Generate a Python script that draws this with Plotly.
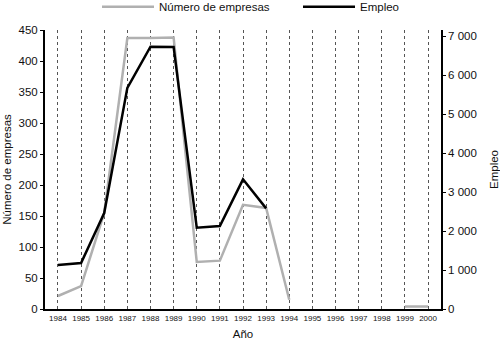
import plotly.graph_objects as go

years = list(range(1984, 2001))
empresas = [21, 37, 155, 437, 437, 438, 76, 78, 168, 163, 15, None, None, None, None, 4, 4]
empleo = [1130, 1180, 2460, 5670, 6725, 6720, 2085, 2128, 3325, 2580, None, None, None, None, None, None, None]
year_labels = [str(y) for y in years]
right_ticks = [0, 1000, 2000, 3000, 4000, 5000, 6000, 7000]
right_text = ["0", "1 000", "2 000", "3 000", "4 000", "5 000", "6 000", "7 000"]

FONT = "Liberation Sans"

fig = go.Figure()
fig.add_trace(go.Scatter(x=years, y=empresas, mode="lines", name="Número de empresas",
                         line=dict(color="#b0b0b0", width=2.5), connectgaps=False, legend="legend"))
fig.add_trace(go.Scatter(x=years, y=empleo, mode="lines", name="Empleo", yaxis="y2",
                         line=dict(color="#000000", width=2.5), connectgaps=False, legend="legend2"))

leg_common = dict(orientation="h", xref="container", yref="container", xanchor="left",
                  y=0.98, yanchor="middle", font=dict(size=11.5, family=FONT), itemwidth=52,
                  bgcolor="rgba(0,0,0,0)")

fig.update_layout(
    width=500, height=341,
    margin=dict(l=45, r=59, t=30, b=32, autoexpand=False),
    paper_bgcolor="white", plot_bgcolor="white",
    font=dict(family=FONT, color="#111", size=11),
    showlegend=True,
    legend=dict(x=97 / 500, **leg_common),
    legend2=dict(x=298 / 500, **leg_common),
    xaxis=dict(range=[1983.44, 2000.56], tickmode="array", tickvals=years, ticktext=year_labels,
               tickfont=dict(size=8), showgrid=True, gridcolor="#555", gridwidth=1, griddash="3px,3px",
               showline=True, linecolor="black", linewidth=2, ticks="", zeroline=False,
               title=dict(text="Año", font=dict(size=11.5), standoff=8)),
    yaxis=dict(range=[0, 450], tickvals=[0, 50, 100, 150, 200, 250, 300, 350, 400, 450],
               showgrid=False, showline=True, linecolor="black", linewidth=2, ticks="outside",
               ticklen=3, tickcolor="black", zeroline=False, tickfont=dict(size=11.5),
               title=dict(text="Número de empresas", font=dict(size=11.5), standoff=4)),
    yaxis2=dict(range=[0, 7154], overlaying="y", side="right", tickmode="array",
                tickvals=right_ticks, ticktext=right_text, showgrid=False, showline=True,
                linecolor="black", linewidth=1.5, ticks="outside", ticklen=3, tickcolor="black",
                zeroline=False, tickfont=dict(size=11.5),
                title=dict(text="Empleo", font=dict(size=11.5), standoff=14)),
)

fig.write_html("out.html")
